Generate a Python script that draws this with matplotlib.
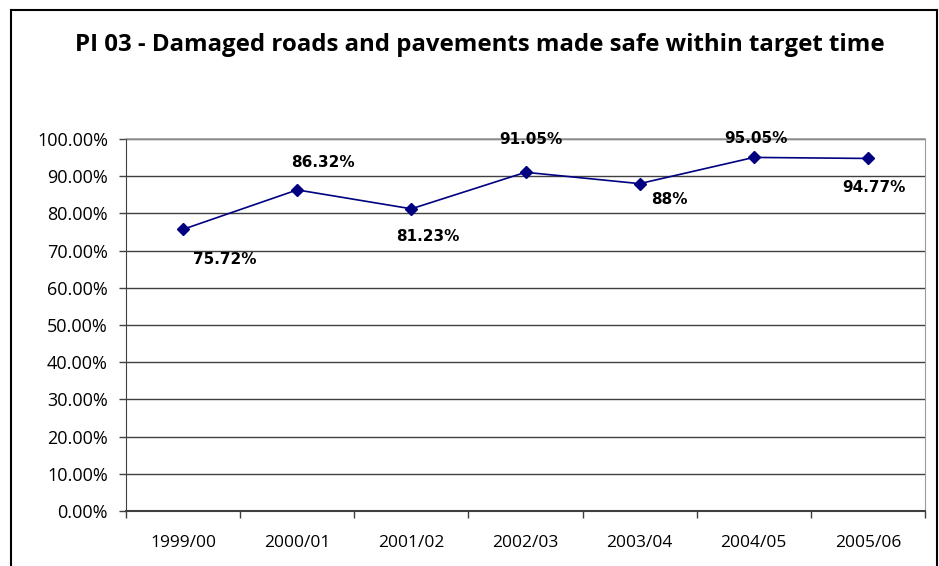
import matplotlib
matplotlib.use("Agg")
import matplotlib.pyplot as plt
from matplotlib.lines import Line2D
import numpy as np

categories = ["1999/00", "2000/01", "2001/02", "2002/03", "2003/04", "2004/05", "2005/06"]
values = [75.72, 86.32, 81.23, 91.05, 88.0, 95.05, 94.77]
labels = ["75.72%", "86.32%", "81.23%", "91.05%", "88%", "95.05%", "94.77%"]
yticks = [0, 10, 20, 30, 40, 50, 60, 70, 80, 90, 100]
ytick_labels = ["%.2f%%" % v for v in yticks]
# label offsets in pixels (dx, dy upward)
label_offsets = [(42, -30), (26, 27), (16, -28), (5, 33), (30, -16), (2, 19), (6, -29)]

W, H = 939, 566
fig = plt.figure(figsize=(W / 100, H / 100), dpi=100)
fig.patch.set_facecolor("white")

L, R, T, B = 126, 925, 139, 511
ax = fig.add_axes([L / W, 1 - B / H, (R - L) / W, (B - T) / H])

x = np.arange(len(categories))
ax.set_xlim(-0.5, len(categories) - 0.5)
ax.set_ylim(0, 100)

ax.plot(x, values, color="#000080", lw=1.2, marker="D", markersize=6,
        markerfacecolor="#000080", markeredgecolor="#000080", zorder=3)

for xi, v, lab, (dx, dy) in zip(x, values, labels, label_offsets):
    ax.annotate(lab, (xi, v), xytext=(dx * 0.72, dy * 0.72), textcoords="offset points",
                ha="center", va="center", fontsize=11, fontweight="bold",
                family="DejaVu Sans", color="black")

ax.set_yticks(yticks)
ax.set_yticklabels(ytick_labels, fontsize=13, family="Open Sans")
ax.set_xticks(x)
ax.set_xticklabels(categories, fontsize=12.5, family="Open Sans")
ax.tick_params(axis="x", length=0, pad=17)
ax.set_xticks(np.arange(-0.5, len(categories)), minor=True)
ax.tick_params(axis="x", which="minor", length=5, width=1, color="#404040", direction="out")
ax.tick_params(axis="y", length=5, width=1, color="#404040", direction="out", pad=8)

ax.grid(axis="y", color="#404040", lw=1, zorder=0)
ax.set_axisbelow(True)
ax.spines["top"].set_visible(False)
ax.spines["right"].set_color("#9a9a9a")
ax.spines["left"].set_color("#404040")
ax.spines["bottom"].set_color("#404040")
ax.spines["bottom"].set_linewidth(1.5)
ax.axhline(100, color="#9a9a9a", lw=1.2, zorder=1, clip_on=False)

# Title
fig.text(480 / W, 1 - 45 / H, "PI 03 - Damaged roads and pavements made safe within target time",
         ha="center", va="center", fontsize=17.3, fontweight="bold", family="Open Sans")

# outer frame
fx0, fx1, fy0 = 11 / W, 937 / W, 1 - 10 / H
fig.add_artist(Line2D([fx0, fx0], [0, fy0], color="black", lw=1.5, transform=fig.transFigure))
fig.add_artist(Line2D([fx1, fx1], [0, fy0], color="black", lw=1.5, transform=fig.transFigure))
fig.add_artist(Line2D([fx0, fx1], [fy0, fy0], color="black", lw=1.5, transform=fig.transFigure))

fig.savefig("out.png", dpi=100)
